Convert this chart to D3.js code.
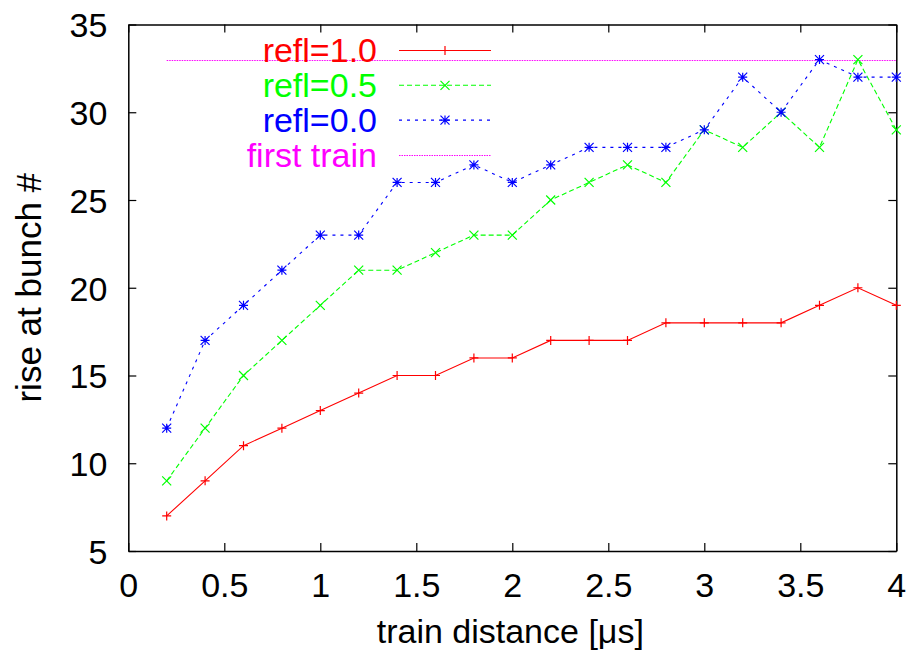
<!DOCTYPE html>
<html>
<head>
<meta charset="utf-8">
<script src="https://cdn.jsdelivr.net/npm/d3@7"></script>
<style>
  html, body { margin: 0; padding: 0; background: #fff; }
  svg text { font-family: "Liberation Sans", Arial, Helvetica, sans-serif; }
</style>
</head>
<body>
<svg id="chart" width="907" height="658"></svg>
<script>
// Train distance in microseconds
const distances = [0.2, 0.4, 0.6, 0.8, 1.0, 1.2, 1.4, 1.6, 1.8, 2.0,
                   2.2, 2.4, 2.6, 2.8, 3.0, 3.2, 3.4, 3.6, 3.8, 4.0];
// Bunch number at which the rise occurs, per reflection coefficient
const refl10 = [7, 9, 11, 12, 13, 14, 15, 15, 16, 16, 17, 17, 17, 18, 18, 18, 18, 19, 20, 19];
const refl05 = [9, 12, 15, 17, 19, 21, 21, 22, 23, 23, 25, 26, 27, 26, 29, 28, 30, 28, 33, 29];
const refl00 = [12, 17, 19, 21, 23, 23, 26, 26, 27, 26, 27, 28, 28, 28, 29, 32, 30, 33, 32, 32];
// Reference level from the first train
const firstTrain = 33;
const firstTrainRange = [0.2, 4.0];

const xTicks = [0, 0.5, 1, 1.5, 2, 2.5, 3, 3.5, 4];
const yTicks = [5, 10, 15, 20, 25, 30, 35];

const series = [
  { name: "refl=1.0", values: refl10, color: "#ff0000", dash: null, marker: "plus" },
  { name: "refl=0.5", values: refl05, color: "#00ff00", dash: "5,3", marker: "times" },
  { name: "refl=0.0", values: refl00, color: "#0000ff", dash: "3,5", marker: "star" }
];
const firstDash = "1.5,1";

const svg = d3.select("#chart");
const plotLeft = 128.3, plotRight = 896.3, plotTop = 24.5, plotBottom = 551;

const x = d3.scaleLinear().domain([0, 4]).range([plotLeft, plotRight]);
const y = d3.scaleLinear().domain([5, 35]).range([plotBottom, plotTop]);

const fmt = d => String(d);
const FS = 34;

// Axes with inward ticks on all four sides
const axB = svg.append("g").attr("transform", `translate(0,${plotBottom})`)
  .call(d3.axisBottom(x).tickValues(xTicks).tickFormat(fmt).tickSizeInner(-8).tickSizeOuter(0).tickPadding(22));
const axT = svg.append("g").attr("transform", `translate(0,${plotTop})`)
  .call(d3.axisTop(x).tickValues(xTicks).tickFormat("").tickSizeInner(-8).tickSizeOuter(0));
const axL = svg.append("g").attr("transform", `translate(${plotLeft},0)`)
  .call(d3.axisLeft(y).tickValues(yTicks).tickFormat(fmt).tickSizeInner(-8).tickSizeOuter(0).tickPadding(21));
const axR = svg.append("g").attr("transform", `translate(${plotRight},0)`)
  .call(d3.axisRight(y).tickValues(yTicks).tickFormat("").tickSizeInner(-8).tickSizeOuter(0));

[axB, axT, axL, axR].forEach(g => {
  g.select(".domain").attr("stroke", "#000").attr("stroke-width", 1.5);
  g.selectAll(".tick line").attr("stroke", "#000").attr("stroke-width", 1.2);
  g.selectAll(".tick text").attr("fill", "#000").style("font-size", FS + "px")
    .style("font-family", '"Liberation Sans", Arial, sans-serif');
});
axL.selectAll(".tick text").attr("dy", "0.36em");

// Axis titles
svg.append("text")
  .attr("x", (plotLeft + plotRight) / 2 - 2).attr("y", 643)
  .attr("text-anchor", "middle").style("font-size", FS + "px")
  .text("train distance [μs]");
svg.append("text")
  .attr("transform", `translate(41,${(plotTop + plotBottom) / 2}) rotate(-90)`)
  .attr("text-anchor", "middle").style("font-size", (FS + 1) + "px")
  .text("rise at bunch #");

// Marker path builders
function markerPath(type, cx, cy) {
  const p = d3.path();
  const r = 4.5;
  if (type === "plus") {
    p.moveTo(cx - r, cy); p.lineTo(cx + r, cy);
    p.moveTo(cx, cy - r); p.lineTo(cx, cy + r);
  } else if (type === "times") {
    p.moveTo(cx - r, cy - r); p.lineTo(cx + r, cy + r);
    p.moveTo(cx - r, cy + r); p.lineTo(cx + r, cy - r);
  } else {
    p.moveTo(cx - r, cy); p.lineTo(cx + r, cy);
    p.moveTo(cx, cy - r); p.lineTo(cx, cy + r);
    p.moveTo(cx - r, cy - r); p.lineTo(cx + r, cy + r);
    p.moveTo(cx - r, cy + r); p.lineTo(cx + r, cy - r);
  }
  return p.toString();
}

// First-train reference line (snapped to a pixel row so the dots stay magenta)
const firstY = Math.round(y(firstTrain)) + 0.5;
svg.append("line")
  .attr("x1", x(firstTrainRange[0])).attr("x2", x(firstTrainRange[1]))
  .attr("y1", firstY).attr("y2", firstY)
  .attr("stroke", "#ff00ff").attr("stroke-width", 1.2).attr("stroke-dasharray", firstDash);

// Data series
const line = d3.line().x(d => x(d[0])).y(d => y(d[1]));
series.forEach(s => {
  const pts = distances.map((d, i) => [d, s.values[i]]);
  svg.append("path").datum(pts)
    .attr("d", line).attr("fill", "none")
    .attr("stroke", s.color).attr("stroke-width", 1.1)
    .attr("stroke-dasharray", s.dash);
  svg.append("g").selectAll("path").data(pts).join("path")
    .attr("d", d => markerPath(s.marker, x(d[0]), y(d[1])))
    .attr("stroke", s.color).attr("stroke-width", 1.2).attr("fill", "none");
});

// Legend
const legendItems = series.map(s => ({ name: s.name, color: s.color, dash: s.dash, marker: s.marker }))
  .concat([{ name: "first train", color: "#ff00ff", dash: firstDash, marker: null }]);
const lg = svg.append("g");
legendItems.forEach((it, i) => {
  const ly = 50.5 + i * 34.8;
  lg.append("text").attr("x", 377).attr("y", ly + 11.8)
    .attr("text-anchor", "end").attr("fill", it.color).style("font-size", FS + "px")
    .text(it.name);
  const sy = it.marker ? ly : Math.round(ly) + 0.5;
  lg.append("line").attr("x1", 399).attr("x2", 491).attr("y1", sy).attr("y2", sy)
    .attr("stroke", it.color).attr("stroke-width", it.marker ? 1.1 : 1.2).attr("stroke-dasharray", it.dash);
  if (it.marker) {
    lg.append("path").attr("d", markerPath(it.marker, 445, ly))
      .attr("stroke", it.color).attr("stroke-width", 1.2).attr("fill", "none");
  }
});
</script>
</body>
</html>
